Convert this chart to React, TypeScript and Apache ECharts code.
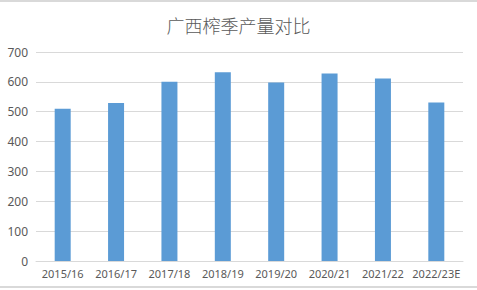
import React, { useEffect, useRef } from "react";
import * as echarts from "echarts";

const title = "广西榨季产量对比";
const seasons = ["2015/16", "2016/17", "2017/18", "2018/19", "2019/20", "2020/21", "2021/22", "2022/23E"];
const output = [510, 529, 600, 632, 598, 628, 611, 531];

export default function App() {
  const ref = useRef<HTMLDivElement>(null);

  useEffect(() => {
    if (!ref.current) return;
    const chart = echarts.init(ref.current, null, { renderer: "svg" });
    chart.setOption({
      animation: false,
      backgroundColor: "#ffffff",
      title: {
        text: title,
        left: "center",
        top: 11,
        textStyle: {
          fontFamily: "Noto Sans CJK SC",
          fontSize: 18,
          fontWeight: 300,
          color: "#595959",
        },
      },
      graphic: [
        { type: "rect", shape: { x: 0, y: 0, width: 477, height: 2 }, style: { fill: "#d9d9d9" } },
        { type: "rect", shape: { x: 0, y: 286, width: 477, height: 2 }, style: { fill: "#d9d9d9" } },
      ],
      grid: { left: 36, right: 14, top: 52, bottom: 29, containLabel: false },
      xAxis: {
        type: "category",
        data: seasons,
        axisLine: { lineStyle: { color: "#d9d9d9" } },
        axisTick: { show: false },
        axisLabel: {
          color: "#595959",
          fontSize: 11,
          fontFamily: "Noto Sans",
          margin: 7,
          interval: 0,
        },
      },
      yAxis: {
        type: "value",
        min: 0,
        max: 700,
        interval: 100,
        axisLine: { show: false },
        axisTick: { show: false },
        splitLine: { lineStyle: { color: "#d9d9d9" } },
        axisLabel: { color: "#595959", fontSize: 12, fontFamily: "Noto Sans", margin: 8 },
      },
      series: [
        {
          type: "bar",
          data: output,
          barWidth: 16,
          itemStyle: { color: "#5b9bd5" },
        },
      ],
    });
    return () => chart.dispose();
  }, []);

  return (
    <div
      ref={ref}
      style={{ position: "fixed", left: 0, top: 0, width: 477, height: 290 }}
    />
  );
}
